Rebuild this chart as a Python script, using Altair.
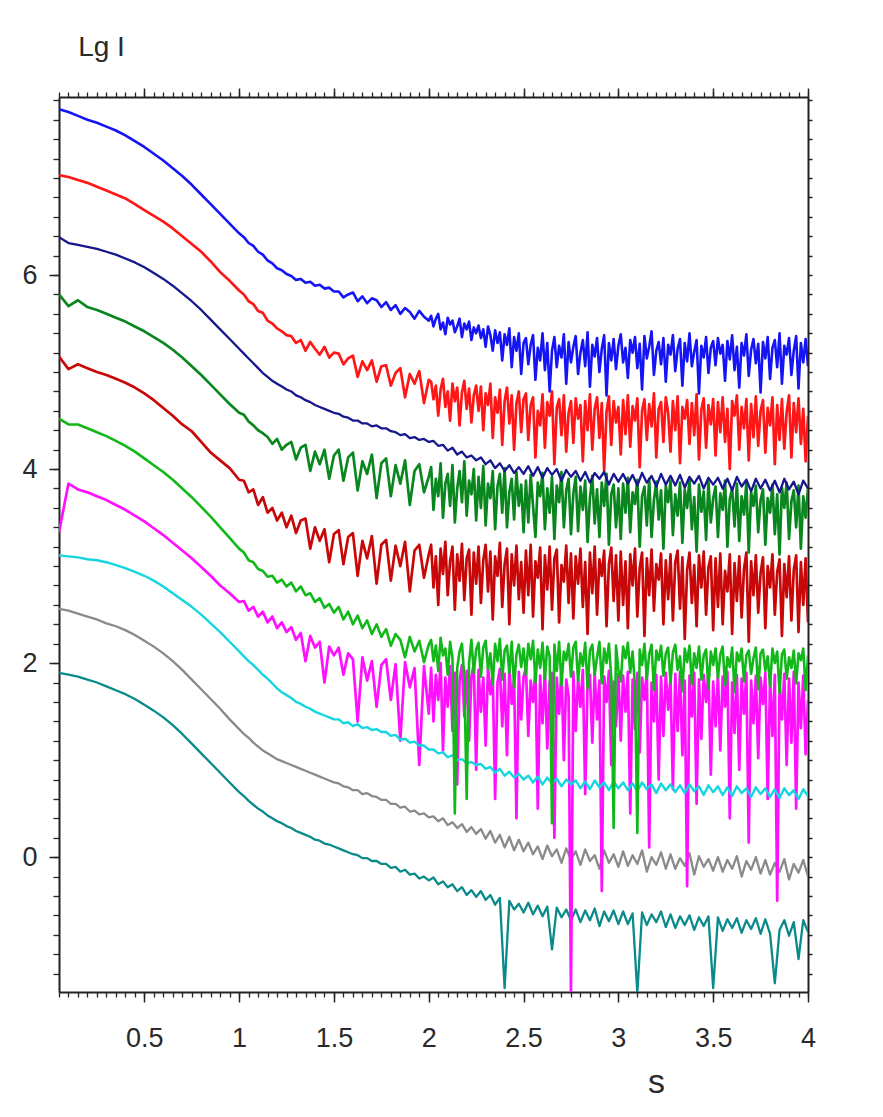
import altair as alt
import pandas as pd

# ---------------- sampling grids ----------------
S_LOW = [0.05, 0.10, 0.15, 0.20, 0.25, 0.30, 0.35, 0.40, 0.45, 0.50,
         0.55, 0.60, 0.65, 0.70, 0.75, 0.80, 0.85, 0.90, 0.95, 1.00]
S_MID = [1.025, 1.05, 1.075, 1.1, 1.125, 1.15, 1.175, 1.2, 1.225, 1.25,
         1.275, 1.3, 1.325, 1.35, 1.375, 1.4, 1.425, 1.45, 1.475, 1.5,
         1.525, 1.55, 1.575, 1.6, 1.625, 1.65, 1.675, 1.7, 1.725, 1.75,
         1.775, 1.8, 1.825, 1.85, 1.875, 1.9, 1.925, 1.95, 1.975, 2.0]
S_FAR = [2.025, 2.05, 2.075, 2.1, 2.125, 2.15, 2.175, 2.2, 2.225, 2.25,
         2.275, 2.3, 2.325, 2.35, 2.375, 2.4, 2.425, 2.45, 2.475, 2.5,
         2.525, 2.55, 2.575, 2.6, 2.625, 2.65, 2.675, 2.7, 2.725, 2.75,
         2.775, 2.8, 2.825, 2.85, 2.875, 2.9, 2.925, 2.95, 2.975, 3.0,
         3.025, 3.05, 3.075, 3.1, 3.125, 3.15, 3.175, 3.2, 3.225, 3.25,
         3.275, 3.3, 3.325, 3.35, 3.375, 3.4, 3.425, 3.45, 3.475, 3.5,
         3.525, 3.55, 3.575, 3.6, 3.625, 3.65, 3.675, 3.7, 3.725, 3.75,
         3.775, 3.8, 3.825, 3.85, 3.875, 3.9, 3.925, 3.95, 3.975, 4.0]
# finer sampling positions used by the very noisy curves beyond s = 2
S_FAR_FINE = [round(2.0 + 0.0125 * k, 4) for k in range(1, 161)]

S_SMOOTH = S_LOW + S_MID + S_FAR
S_NOISY = S_LOW + S_MID + S_FAR_FINE

# ---------------- curve values ----------------
BLUE = [7.71, 7.68, 7.64, 7.60, 7.57, 7.53, 7.49, 7.44, 7.38, 7.32,
        7.25, 7.18, 7.10, 7.02, 6.93, 6.83, 6.73, 6.63, 6.53, 6.43,
        6.39, 6.33, 6.30, 6.24, 6.21, 6.15, 6.12, 6.07, 6.05, 6.01,
        5.99, 5.95, 5.96, 5.92, 5.93, 5.89, 5.90, 5.86, 5.87, 5.83,
        5.83, 5.77, 5.80, 5.82, 5.73, 5.78, 5.71, 5.76, 5.74, 5.67,
        5.72, 5.64, 5.69, 5.60, 5.66, 5.62, 5.55, 5.63, 5.57, 5.53,
        5.58, 5.47, 5.55, 5.60, 5.44, 5.51, 5.39, 5.56, 5.49, 5.53, 5.41, 5.47, 5.55, 5.36, 5.50, 5.44, 5.52, 5.33, 5.46, 5.40,
        5.48, 5.35, 5.44, 5.26, 5.47, 5.38, 5.22, 5.43, 5.30, 5.41, 5.12, 5.39, 5.28, 5.45, 5.05, 5.36, 5.22, 5.40, 4.98, 5.30,
        5.35, 5.08, 5.28, 5.38, 4.92, 5.25, 5.12, 5.40, 5.02, 5.30, 4.80, 5.22, 5.36, 5.05, 5.27, 5.15, 5.39, 4.88, 5.31, 5.10,
        5.26, 5.37, 4.98, 5.20, 5.33, 5.06, 5.41, 4.85, 5.28, 5.16, 5.35, 5.00, 5.24, 5.38, 4.76, 5.30, 5.12, 5.34, 5.03, 5.27,
        5.39, 5.10, 5.25, 4.94, 5.33, 5.20, 5.36, 5.04, 5.29, 4.82, 5.37, 5.14, 5.26, 5.42, 4.97, 5.22, 5.31, 5.08, 5.35, 4.90,
        5.28, 5.18, 5.38, 5.01, 5.24, 5.34, 4.86, 5.30, 5.11, 5.40, 5.06, 5.21, 5.33, 4.78, 5.27, 5.15, 5.36, 4.99, 5.25, 5.32,
        5.07, 5.35, 5.19, 5.28, 4.91, 5.32, 5.13, 5.38, 5.02, 5.26, 4.84, 5.30, 5.17, 5.39, 4.96, 5.23, 5.34, 5.09, 5.29, 4.79,
        5.31, 5.14, 5.36, 4.93, 5.25, 5.33, 5.05, 5.40, 4.88, 5.27, 5.18, 5.35, 4.97, 5.22, 5.37, 4.83, 5.30, 5.10, 5.34, 5.06]

RED = [7.03, 7.01, 6.98, 6.95, 6.91, 6.87, 6.83, 6.79, 6.73, 6.67,
       6.61, 6.55, 6.48, 6.40, 6.32, 6.24, 6.14, 6.03, 5.94, 5.84,
       5.80, 5.73, 5.70, 5.63, 5.61, 5.53, 5.50, 5.45, 5.42, 5.38,
       5.37, 5.30, 5.33, 5.22, 5.31, 5.24, 5.18, 5.26, 5.15, 5.20,
       5.19, 5.08, 5.14, 5.17, 4.95, 5.11, 5.02, 5.12, 4.90, 5.06,
       5.07, 4.86, 4.99, 5.04, 4.74, 4.98, 4.88, 5.01, 4.68, 4.92,
       4.90, 4.72, 4.86, 4.55, 4.82, 4.93, 4.64, 4.80, 4.50, 4.88, 4.70, 4.84, 4.45, 4.79, 4.91, 4.62, 4.83, 4.48, 4.76, 4.86,
       4.60, 4.85, 4.40, 4.78, 4.66, 4.88, 4.32, 4.74, 4.58, 4.82, 4.25, 4.70, 4.84, 4.47, 4.76, 4.20, 4.68, 4.80, 4.38, 4.72,
       4.78, 4.30, 4.66, 4.74, 4.12, 4.60, 4.45, 4.77, 4.22, 4.69, 4.55, 4.80, 4.05, 4.63, 4.72, 4.35, 4.76, 4.18, 4.58, 4.70,
       4.27, 4.73, 4.52, 4.66, 4.08, 4.70, 4.40, 4.77, 4.20, 4.62, 4.74, 4.32, 4.68, 3.98, 4.59, 4.75, 4.25, 4.70, 4.48, 4.64,
       4.15, 4.71, 4.36, 4.76, 4.23, 4.65, 4.50, 4.73, 4.02, 4.60, 4.72, 4.30, 4.67, 4.44, 4.78, 4.12, 4.62, 4.69, 4.28, 4.74,
       4.58, 4.18, 4.70, 4.40, 4.75, 4.06, 4.64, 4.52, 4.71, 4.26, 4.68, 4.35, 4.77, 4.10, 4.61, 4.73, 4.22, 4.66, 4.46, 4.72,
       4.14, 4.69, 4.38, 4.74, 4.28, 4.62, 4.00, 4.70, 4.55, 4.76, 4.20, 4.64, 4.42, 4.72, 4.09, 4.67, 4.33, 4.75, 4.24, 4.60,
       4.71, 4.17, 4.63, 4.45, 4.74, 4.05, 4.66, 4.30, 4.72, 4.21, 4.59, 4.76, 4.12, 4.68, 4.38, 4.73, 4.26, 4.62, 4.08, 4.55]

NAVY = [6.39, 6.33, 6.31, 6.29, 6.27, 6.24, 6.21, 6.17, 6.13, 6.08,
        6.02, 5.96, 5.89, 5.81, 5.73, 5.64, 5.54, 5.44, 5.34, 5.24,
        5.19, 5.14, 5.09, 5.04, 4.99, 4.95, 4.91, 4.88, 4.85, 4.82,
        4.80, 4.76, 4.74, 4.71, 4.69, 4.66, 4.64, 4.62, 4.60, 4.58,
        4.57, 4.54, 4.53, 4.50, 4.50, 4.47, 4.47, 4.44, 4.45, 4.42,
        4.42, 4.39, 4.38, 4.35, 4.36, 4.32, 4.33, 4.30, 4.31, 4.28,
        4.29, 4.24, 4.25, 4.19, 4.22, 4.15, 4.18, 4.12, 4.14, 4.09,
        4.12, 4.05, 4.09, 4.01, 4.06, 3.98, 4.04, 3.96, 4.02, 3.95,
        4.03, 3.93, 4.02, 3.91, 4.01, 3.94, 4.00, 3.88, 3.99, 3.92,
        3.98, 3.88, 3.97, 3.86, 3.96, 3.90, 3.97, 3.84, 3.95, 3.87,
        3.95, 3.85, 3.94, 3.83, 3.96, 3.86, 3.93, 3.82, 3.95, 3.84,
        3.93, 3.83, 3.94, 3.81, 3.92, 3.85, 3.93, 3.80, 3.91, 3.84,
        3.91, 3.80, 3.90, 3.78, 3.92, 3.82, 3.89, 3.77, 3.90, 3.80,
        3.89, 3.78, 3.88, 3.76, 3.90, 3.79, 3.87, 3.74, 3.88, 3.80]

DARK_GREEN = [5.80, 5.68, 5.74, 5.67, 5.64, 5.60, 5.56, 5.52, 5.47, 5.42,
              5.36, 5.30, 5.23, 5.15, 5.06, 4.97, 4.87, 4.77, 4.67, 4.58,
              4.56, 4.49, 4.45, 4.40, 4.37, 4.33, 4.26, 4.31, 4.20, 4.25,
              4.28, 4.10, 4.22, 4.25, 3.98, 4.18, 4.05, 4.20, 3.90, 4.14,
              4.20, 3.88, 4.12, 4.17, 3.78, 4.08, 3.95, 4.15, 3.70, 4.06,
              4.11, 3.72, 4.04, 3.85, 4.09, 3.63, 3.98, 4.05, 3.76, 3.92,
              4.02, 3.58, 3.90, 3.72, 4.06, 3.50, 3.85, 3.95, 3.62, 4.04, 3.45, 3.80, 3.98, 3.66, 4.08, 3.52, 3.88, 3.74, 4.00, 3.47,
              3.92, 3.60, 4.03, 3.42, 3.85, 3.70, 3.98, 3.38, 3.82, 3.95, 3.55, 4.01, 3.40, 3.76, 3.90, 3.48, 3.97, 3.62, 3.84, 3.35,
              3.88, 3.45, 3.94, 3.62, 3.30, 3.86, 3.72, 3.96, 3.38, 3.80, 3.55, 3.92, 3.28, 3.83, 3.66, 3.97, 3.40, 3.78, 3.90, 3.33,
              3.75, 3.92, 3.36, 3.82, 3.58, 3.88, 3.25, 3.70, 3.93, 3.44, 3.79, 3.30, 3.86, 3.62, 3.95, 3.22, 3.74, 3.84, 3.40, 3.80,
              3.28, 3.85, 3.55, 3.91, 3.35, 3.76, 3.64, 3.89, 3.20, 3.72, 3.82, 3.42, 3.90, 3.30, 3.68, 3.87, 3.48, 3.78, 3.18, 3.83,
              3.66, 3.88, 3.32, 3.74, 3.52, 3.86, 3.24, 3.79, 3.60, 3.90, 3.38, 3.71, 3.15, 3.84, 3.56, 3.77, 3.27, 3.87, 3.45, 3.70,
              3.82, 3.30, 3.75, 3.58, 3.88, 3.20, 3.69, 3.80, 3.41, 3.85, 3.26, 3.72, 3.53, 3.86, 3.14, 3.76, 3.62, 3.83, 3.35, 3.68,
              3.79, 3.22, 3.70, 3.55, 3.84, 3.33, 3.74, 3.12, 3.81, 3.60, 3.86, 3.28, 3.67, 3.78, 3.40, 3.83, 3.18, 3.72, 3.50, 3.80]

DARK_RED = [5.16, 5.03, 5.08, 5.04, 5.00, 4.97, 4.93, 4.89, 4.84, 4.78,
            4.71, 4.63, 4.55, 4.46, 4.39, 4.28, 4.17, 4.09, 4.01, 3.89,
            3.88, 3.76, 3.79, 3.63, 3.71, 3.55, 3.60, 3.47, 3.55, 3.40,
            3.52, 3.34, 3.47, 3.49, 3.18, 3.40, 3.26, 3.38, 3.04, 3.33,
            3.37, 3.02, 3.30, 3.34, 2.90, 3.26, 3.08, 3.31, 2.82, 3.22,
            3.27, 2.85, 3.21, 3.00, 3.25, 2.74, 3.16, 3.22, 2.88, 3.12,
            3.22, 2.78, 3.10, 2.60, 3.18, 2.92, 3.25, 2.70, 3.05, 3.20, 2.55, 3.12, 2.85, 3.23, 2.65, 3.08, 3.17, 2.50, 3.14, 2.82,
            3.20, 2.62, 3.06, 3.22, 2.74, 3.15, 2.45, 3.10, 2.90, 3.24, 2.58, 3.02, 3.18, 2.40, 3.12, 2.80, 3.21, 2.66, 3.04, 2.52,
            3.16, 2.70, 3.22, 2.48, 3.05, 2.88, 3.19, 2.35, 3.11, 2.76, 3.20, 2.55, 3.08, 3.17, 2.42, 3.01, 2.84, 3.21, 2.62, 3.13,
            2.46, 3.10, 2.82, 3.18, 2.58, 3.04, 2.30, 3.14, 2.72, 3.20, 2.50, 3.07, 2.90, 3.16, 2.38, 3.02, 3.19, 2.64, 3.11, 2.44,
            3.15, 2.60, 3.05, 2.36, 3.12, 2.80, 3.18, 2.48, 2.98, 3.14, 2.28, 3.08, 2.70, 3.17, 2.54, 3.02, 2.86, 3.13, 2.40, 3.06,
            2.66, 3.12, 2.44, 3.04, 3.16, 2.56, 3.09, 2.25, 2.96, 3.14, 2.62, 3.01, 2.38, 3.11, 2.78, 3.15, 2.50, 2.99, 3.10, 2.34,
            3.08, 2.58, 3.13, 2.40, 2.95, 2.74, 3.12, 2.30, 3.03, 2.64, 3.10, 2.47, 2.97, 3.14, 2.22, 3.05, 2.70, 3.11, 2.52, 2.93,
            3.09, 2.36, 3.00, 2.78, 3.12, 2.50, 2.94, 3.07, 2.28, 3.02, 2.68, 3.10, 2.44, 2.96, 3.11, 2.32, 3.04, 2.60, 3.08, 2.42]

GREEN = [4.52, 4.46, 4.46, 4.42, 4.38, 4.34, 4.29, 4.24, 4.18, 4.11,
         4.04, 3.97, 3.89, 3.80, 3.71, 3.61, 3.51, 3.40, 3.29, 3.18,
         3.14, 3.06, 3.04, 2.97, 2.95, 2.89, 2.90, 2.83, 2.86, 2.79,
         2.83, 2.74, 2.79, 2.70, 2.72, 2.63, 2.67, 2.57, 2.61, 2.52,
         2.58, 2.45, 2.53, 2.40, 2.49, 2.36, 2.44, 2.30, 2.40, 2.27,
         2.35, 2.18, 2.30, 2.24, 2.06, 2.27, 2.12, 2.23, 2.01, 2.19,
         2.24, 2.02, 2.18, 1.92, 2.26, 2.08, 2.15, 1.88, 2.22, 2.05, 0.45, 1.95, 2.12, 2.20, 1.85, 0.60, 2.00, 2.24, 1.90, 2.14,
         2.21, 1.86, 2.16, 2.23, 1.94, 2.10, 1.78, 2.20, 2.02, 2.25, 1.83, 2.13, 2.18, 1.90, 2.22, 1.75, 2.09, 2.19, 1.96, 2.15,
         1.88, 2.20, 2.04, 2.23, 1.80, 2.14, 1.95, 2.21, 1.84, 2.17, 2.07, 0.35, 2.19, 1.92, 2.22, 1.77, 2.12, 2.03, 2.20, 1.86,
         2.16, 2.22, 1.82, 2.10, 1.97, 2.21, 1.74, 2.13, 2.19, 1.88, 2.06, 2.22, 1.79, 2.15, 2.00, 2.20, 1.85, 0.30, 2.18, 1.93,
         1.81, 2.17, 2.05, 2.21, 1.90, 2.12, 1.76, 0.25, 2.14, 1.98, 2.20, 1.84, 2.09, 2.19, 1.72, 2.13, 2.03, 2.18, 1.87, 2.10,
         2.16, 1.80, 2.11, 2.19, 1.93, 2.07, 1.71, 2.15, 2.01, 2.18, 1.78, 2.10, 1.95, 2.17, 1.83, 2.08, 2.14, 1.74, 2.12, 1.98,
         2.15, 1.85, 2.09, 2.17, 1.77, 2.06, 1.96, 2.16, 1.70, 2.11, 2.02, 2.15, 1.81, 2.08, 2.13, 1.89, 2.05, 2.16, 1.73, 2.10,
         2.14, 1.92, 2.07, 1.76, 2.15, 2.00, 2.12, 1.69, 2.09, 2.14, 1.84, 2.06, 1.95, 2.13, 1.79, 2.10, 2.03, 2.15, 1.72, 2.08]

MAGENTA = [3.35, 3.85, 3.79, 3.76, 3.72, 3.68, 3.63, 3.58, 3.52, 3.46,
           3.39, 3.32, 3.24, 3.16, 3.08, 2.99, 2.90, 2.80, 2.72, 2.63,
           2.64, 2.54, 2.58, 2.48, 2.53, 2.42, 2.48, 2.36, 2.42, 2.32,
           2.37, 2.24, 2.31, 2.02, 2.28, 2.16, 2.22, 1.80, 2.17, 2.08,
           2.16, 1.88, 2.10, 2.04, 1.40, 2.06, 1.82, 2.02, 1.55, 1.98,
           2.04, 1.62, 1.99, 1.20, 2.01, 1.75, 1.95, 0.95, 1.97, 1.48,
           1.95, 1.40, 1.88, 1.62, 2.00, 1.10, 1.85, 1.55, 1.97, 1.30, 1.90, 0.75, 1.82, 1.98, 1.45, 1.92, 1.20, 1.86, 1.99, 0.90,
           1.93, 1.50, 1.85, 1.15, 1.96, 1.68, 1.88, 0.60, 1.80, 1.94, 1.35, 1.89, 1.05, 1.97, 1.58, 1.84, 0.40, 1.91, 1.42, 1.86,
           1.95, 1.25, 1.82, 1.60, 1.92, 0.50, 1.87, 1.38, 1.94, 1.12, 1.80, 1.90, 0.20, 1.85, 1.48, 1.93, 1.00, 1.83, 1.66, -1.40,
           1.91, 1.30, 1.84, 1.55, 1.93, 0.65, 1.79, 1.88, 1.18, 1.90, 1.42, 1.82, -0.35, 1.86, 1.60, 1.92, 0.95, 1.81, 1.35, 1.89,
           1.20, 1.87, 1.50, 1.91, 0.45, 1.83, 1.32, 1.90, 1.08, 1.85, 1.62, 1.92, 0.10, 1.80, 1.40, 1.88, 0.80, 1.86, 1.25, 1.90,
           1.52, 1.84, 0.70, 1.89, 1.30, 1.91, 1.05, 1.82, -0.30, 1.87, 1.45, 1.90, 0.55, 1.83, 1.22, 1.88, 1.60, 1.92, 0.85, 1.81,
           1.35, 1.89, 1.10, 1.86, 1.55, 1.91, 0.40, 1.80, 1.28, 1.88, 0.90, 1.84, 1.48, 1.90, 0.15, 1.82, 1.38, 1.87, 1.02, 1.85,
           1.58, 1.90, 0.60, 1.83, 1.25, 1.88, -0.45, 1.81, 1.42, 1.89, 0.95, 1.84, 1.18, 1.91, 0.50, 1.80, 1.33, 1.87, 1.06, 1.62]

CYAN = [3.11, 3.10, 3.09, 3.07, 3.06, 3.04, 3.01, 2.98, 2.94, 2.90,
        2.85, 2.79, 2.72, 2.65, 2.58, 2.50, 2.41, 2.32, 2.22, 2.12,
        2.07, 2.02, 1.98, 1.93, 1.88, 1.84, 1.79, 1.74, 1.70, 1.67,
        1.64, 1.60, 1.58, 1.55, 1.53, 1.50, 1.48, 1.46, 1.44, 1.42,
        1.42, 1.38, 1.39, 1.35, 1.37, 1.33, 1.34, 1.31, 1.32, 1.29,
        1.29, 1.25, 1.26, 1.21, 1.22, 1.18, 1.19, 1.15, 1.15, 1.11,
        1.11, 1.07, 1.08, 1.03, 1.05, 1.00, 1.01, 0.97, 0.98, 0.95,
        0.96, 0.91, 0.93, 0.87, 0.91, 0.84, 0.88, 0.82, 0.86, 0.80,
        0.84, 0.77, 0.83, 0.75, 0.82, 0.76, 0.81, 0.73, 0.80, 0.75,
        0.79, 0.71, 0.78, 0.70, 0.79, 0.72, 0.77, 0.69, 0.78, 0.71,
        0.77, 0.69, 0.76, 0.68, 0.77, 0.70, 0.75, 0.66, 0.76, 0.69,
        0.75, 0.67, 0.74, 0.66, 0.75, 0.68, 0.73, 0.64, 0.74, 0.67,
        0.73, 0.64, 0.72, 0.63, 0.73, 0.66, 0.71, 0.62, 0.72, 0.65,
        0.71, 0.62, 0.70, 0.61, 0.71, 0.64, 0.69, 0.60, 0.70, 0.63]

GRAY = [2.56, 2.54, 2.51, 2.48, 2.45, 2.41, 2.38, 2.34, 2.29, 2.23,
        2.17, 2.10, 2.02, 1.93, 1.83, 1.73, 1.63, 1.53, 1.42, 1.32,
        1.27, 1.23, 1.18, 1.14, 1.10, 1.07, 1.04, 1.01, 0.99, 0.97,
        0.95, 0.93, 0.91, 0.89, 0.87, 0.85, 0.83, 0.81, 0.79, 0.77,
        0.76, 0.73, 0.72, 0.69, 0.69, 0.65, 0.66, 0.63, 0.62, 0.59,
        0.59, 0.55, 0.55, 0.51, 0.52, 0.47, 0.48, 0.44, 0.45, 0.41,
        0.42, 0.37, 0.40, 0.33, 0.36, 0.30, 0.34, 0.26, 0.31, 0.24,
        0.29, 0.19, 0.27, 0.15, 0.23, 0.10, 0.21, 0.07, 0.18, 0.06,
        0.15, 0.03, 0.11, -0.02, 0.12, 0.01, 0.08, -0.06, 0.09, -0.02,
        0.06, -0.08, 0.08, -0.04, 0.02, -0.12, 0.07, -0.06, 0.03, -0.10,
        0.06, -0.09, 0.02, -0.07, 0.07, -0.15, 0.00, -0.08, 0.05, -0.12,
        0.03, -0.12, -0.01, -0.09, 0.04, -0.18, 0.01, -0.10, -0.02, -0.14,
        0.00, -0.15, -0.03, -0.12, 0.01, -0.20, -0.04, -0.13, 0.00, -0.17,
        -0.03, -0.18, -0.06, -0.15, -0.02, -0.23, -0.07, -0.16, -0.03, -0.20]

TEAL = [1.90, 1.88, 1.86, 1.83, 1.80, 1.76, 1.72, 1.68, 1.63, 1.57,
        1.51, 1.44, 1.36, 1.27, 1.17, 1.07, 0.97, 0.87, 0.77, 0.67,
        0.63, 0.58, 0.54, 0.50, 0.47, 0.43, 0.40, 0.37, 0.35, 0.32,
        0.30, 0.27, 0.25, 0.23, 0.21, 0.18, 0.17, 0.14, 0.13, 0.11,
        0.09, 0.07, 0.05, 0.03, 0.02, -0.01, -0.01, -0.04, -0.04, -0.07,
        -0.07, -0.11, -0.10, -0.15, -0.13, -0.18, -0.17, -0.22, -0.20, -0.24,
        -0.21, -0.28, -0.25, -0.31, -0.28, -0.35, -0.31, -0.39, -0.34, -0.41,
        -0.35, -0.44, -0.39, -0.49, -0.42, -1.35, -0.45, -0.54, -0.48, -0.57,
        -0.47, -0.59, -0.50, -0.61, -0.51, -0.95, -0.52, -0.62, -0.54, -0.65,
        -0.54, -0.67, -0.55, -0.65, -0.53, -0.71, -0.56, -0.66, -0.55, -0.69,
        -0.56, -0.69, -0.58, -1.40, -0.57, -0.70, -0.59, -0.67, -0.56, -0.72,
        -0.59, -0.73, -0.61, -0.70, -0.60, -0.75, -0.62, -0.71, -0.61, -1.35,
        -0.62, -0.76, -0.64, -0.73, -0.63, -0.78, -0.65, -0.74, -0.63, -0.79,
        -0.64, -0.79, -1.30, -0.75, -0.65, -0.81, -0.67, -1.05, -0.65, -0.77]

# drawing order: first drawn is at the bottom
SERIES = [
    ("gray", S_SMOOTH, GRAY, "#8a8a8a", 2.3),
    ("teal", S_SMOOTH, TEAL, "#0a8a8a", 2.3),
    ("magenta", S_NOISY, MAGENTA, "#ff10ff", 2.7),
    ("cyan", S_SMOOTH, CYAN, "#14d6e0", 2.4),
    ("green", S_NOISY, GREEN, "#12b81a", 2.6),
    ("darkred", S_NOISY, DARK_RED, "#c80808", 2.7),
    ("darkgreen", S_NOISY, DARK_GREEN, "#0a861e", 2.7),
    ("red", S_NOISY, RED, "#ff1616", 2.7),
    ("blue", S_NOISY, BLUE, "#1414f5", 2.6),
    ("navy", S_SMOOTH, NAVY, "#16168e", 2.3),
]

X_MAJOR = [0.5, 1, 1.5, 2, 2.5, 3, 3.5, 4]
X_MINOR = [round(0.05 * i, 2) for i in range(1, 81)]
Y_MAJOR = [0, 2, 4, 6]
Y_MINOR = [round(-1.2 + 0.2 * i, 1) for i in range(0, 46)]

X_DOMAIN = [0.05, 4.0]
Y_DOMAIN = [-1.39, 7.835]

FONT = "Liberation Sans, Arial, sans-serif"
AXIS_COLOR = "#222222"
TEXT_COLOR = "#2a2a2a"

xs = alt.Scale(domain=X_DOMAIN, nice=False, zero=False)
ys = alt.Scale(domain=Y_DOMAIN, nice=False, zero=False)

base_df = pd.DataFrame({"s": S_SMOOTH, "v": NAVY})


def axis_layer(xaxis, yaxis):
    return alt.Chart(base_df).mark_line(opacity=0).encode(
        x=alt.X("s:Q", scale=xs, axis=xaxis),
        y=alt.Y("v:Q", scale=ys, axis=yaxis),
    )


common = dict(grid=False, domainColor=AXIS_COLOR, domainWidth=2,
              tickColor=AXIS_COLOR, tickWidth=1.5)

x_major = alt.Axis(orient="bottom", values=X_MAJOR, format="~g", tickSize=10,
                   labelFont=FONT, labelFontSize=27, labelColor=TEXT_COLOR,
                   labelPadding=23, labelBaseline="top", title="s",
                   titleFont=FONT, titleFontSize=34, titleFontWeight="normal",
                   titleColor=TEXT_COLOR, titleX=597, titleY=90,
                   titleAlign="center", titleBaseline="middle",
                   labelFlush=False, **common)
y_major = alt.Axis(orient="left", values=Y_MAJOR, format="~g", tickSize=10,
                   labelFont=FONT, labelFontSize=27, labelColor=TEXT_COLOR,
                   labelPadding=12, title="Lg I", titleFont=FONT,
                   titleFontSize=28, titleFontWeight="normal",
                   titleColor=TEXT_COLOR, titleAngle=0, titleX=42,
                   titleY=-50, titleAlign="center", titleBaseline="middle",
                   labelFlush=False, **common)
x_minor = alt.Axis(orient="bottom", values=X_MINOR, tickSize=5, labels=False,
                   domain=False, title=None, grid=False, tickColor=AXIS_COLOR,
                   tickWidth=1.3)
y_minor = alt.Axis(orient="left", values=Y_MINOR, tickSize=6, labels=False,
                   domain=False, title=None, grid=False, tickColor=AXIS_COLOR,
                   tickWidth=1.3)
x_top_major = alt.Axis(orient="top", values=X_MAJOR, tickSize=9, labels=False,
                       title=None, **common)
x_top_minor = alt.Axis(orient="top", values=X_MINOR, tickSize=5, labels=False,
                       domain=False, title=None, grid=False,
                       tickColor=AXIS_COLOR, tickWidth=1.3)
y_right = alt.Axis(orient="right", values=Y_MINOR, tickSize=4, labels=False,
                   title=None, **common)

layers = [
    axis_layer(x_major, y_major),
    axis_layer(x_minor, y_minor),
    axis_layer(x_top_major, y_right),
    axis_layer(x_top_minor, None),
]

for name, grid, vals, col, width in SERIES:
    df = pd.DataFrame({"s": grid, "v": vals})
    layers.append(
        alt.Chart(df).mark_line(color=col, strokeWidth=width, clip=True,
                                interpolate="linear",
                                strokeJoin="round").encode(
            x=alt.X("s:Q", scale=xs, axis=None),
            y=alt.Y("v:Q", scale=ys, axis=None),
        )
    )

chart = alt.layer(*layers).resolve_axis(
    x="independent", y="independent"
).properties(
    width=749, height=895,
    autosize=alt.AutoSizeParams(type="none"),
    padding={"left": 51, "top": 89, "right": 60, "bottom": 110},
    background="white",
).configure_view(stroke=None)

chart.save("out.html", embed_options={"renderer": "svg", "actions": False})
